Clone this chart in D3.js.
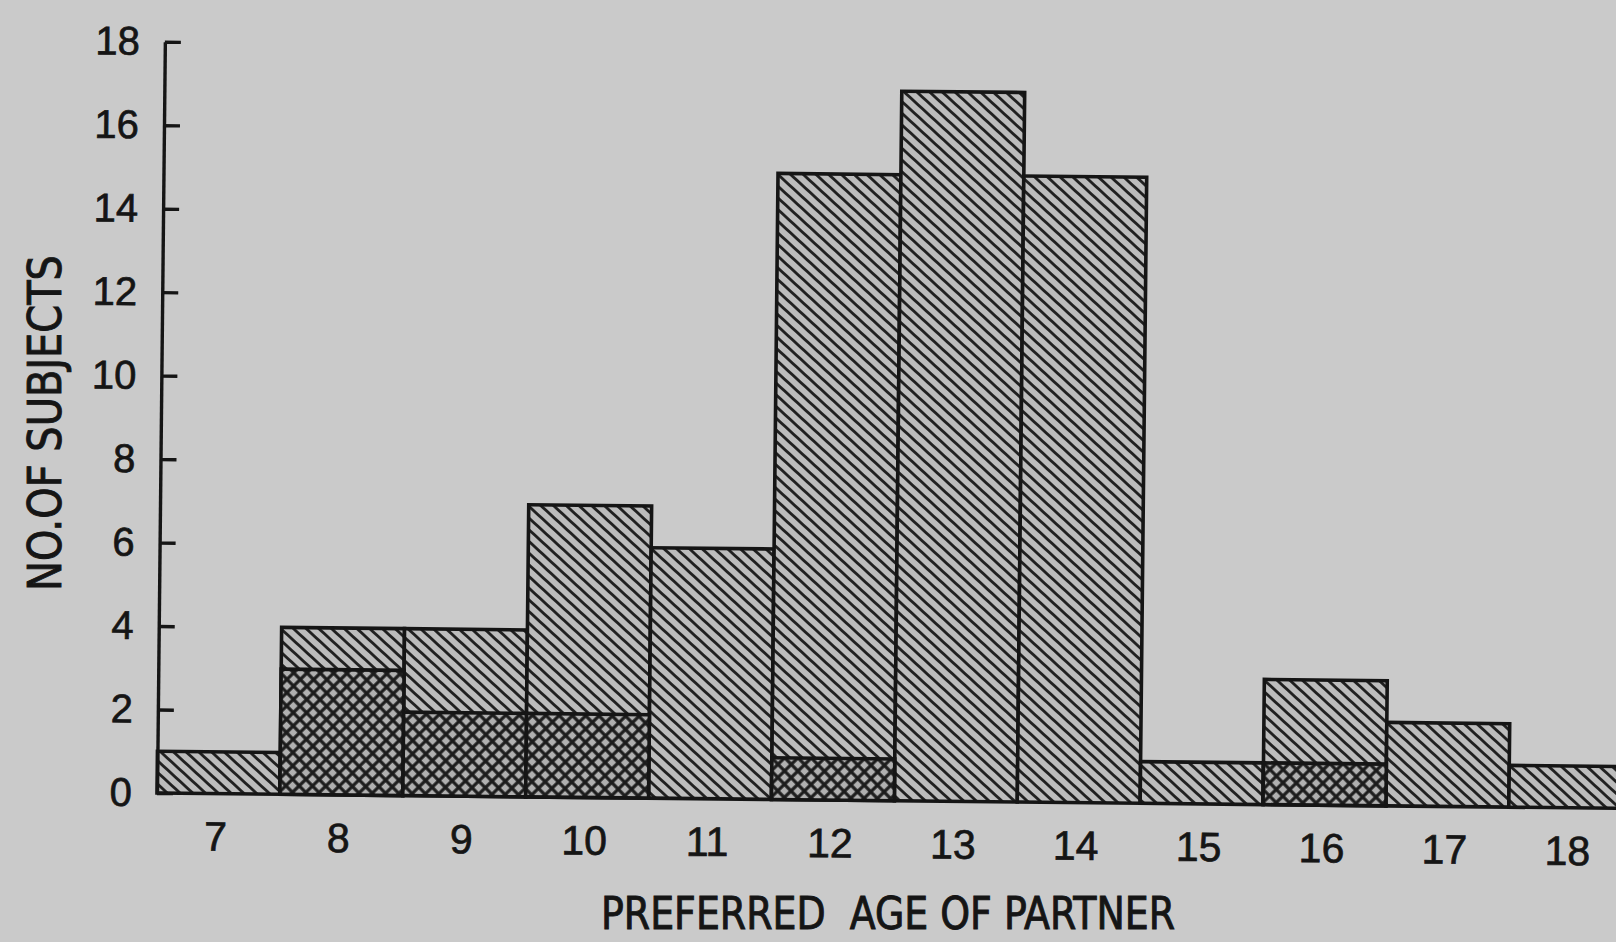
<!DOCTYPE html>
<html>
  <head>
    <meta charset="UTF-8">
    <style>
      html, body { margin: 0; padding: 0; background: #cacaca; }
      svg { display: block; }
      .title { white-space: pre; }
    </style>
    <script src="https://d3js.org/d3.v7.min.js"></script>
  </head>
  <body>
    <div id="viz"></div>
    <script>
      // preferred age of partner (bins) and counts
      const ages = [7, 8, 9, 10, 11, 12, 13, 14, 15, 16, 17, 18];
      const totals = [1, 4, 4, 7, 6, 15, 17, 15, 1, 3, 2, 1];
      const crossed = [0, 3, 2, 2, 0, 1, 0, 0, 0, 1, 0, 0];
      const yTicks = [0, 2, 4, 6, 8, 10, 12, 14, 16, 18];

      const width = 1616, height = 942;
      const x0 = 157, y0 = 793, binW = 122.9;
      const ink = '#151515';

      const x = d3.scaleLinear().domain([6.5, 18.5]).range([x0, x0 + 12 * binW]);
      const y = d3.scaleLinear().domain([0, 18]).range([y0, 41.7]);

      const svg = d3.select('#viz').append('svg')
          .attr('width', width)
          .attr('height', height);

      svg.append('rect')
          .attr('width', width).attr('height', height)
          .attr('fill', '#cacaca');

      // hatch patterns
      const defs = svg.append('defs');
      const hatch = defs.append('pattern')
          .attr('id', 'hatch')
          .attr('patternUnits', 'userSpaceOnUse')
          .attr('width', 8.6).attr('height', 8.6)
          .attr('patternTransform', 'rotate(42)');
      hatch.append('rect').attr('width', 8.6).attr('height', 8.6).attr('fill', '#bcbcbc');
      hatch.append('line')
          .attr('x1', 0).attr('x2', 8.6).attr('y1', 4.3).attr('y2', 4.3)
          .attr('stroke', '#1e1e1e').attr('stroke-width', 2.8);

      const cross = defs.append('pattern')
          .attr('id', 'cross')
          .attr('patternUnits', 'userSpaceOnUse')
          .attr('width', 9.4).attr('height', 9.4)
          .attr('patternTransform', 'rotate(45)');
      cross.append('rect').attr('width', 9.4).attr('height', 9.4).attr('fill', '#b0b0b0');
      cross.append('line')
          .attr('x1', 0).attr('x2', 9.4).attr('y1', 4.7).attr('y2', 4.7)
          .attr('stroke', '#1c1c1c').attr('stroke-width', 3.2);
      cross.append('line')
          .attr('y1', 0).attr('y2', 9.4).attr('x1', 4.7).attr('x2', 4.7)
          .attr('stroke', '#1c1c1c').attr('stroke-width', 3.2);

      // the scanned figure sits slightly rotated
      const g = svg.append('g')
          .attr('transform', `rotate(0.6, ${x0}, ${y0})`);

      const data = ages.map((a, i) => ({age: a, total: totals[i], crossed: crossed[i]}));

      // single hatch (whole bar)
      g.selectAll('rect.bar')
        .data(data)
        .join('rect')
          .attr('class', 'bar')
          .attr('x', d => x(d.age - 0.5))
          .attr('width', binW)
          .attr('y', d => y(d.total))
          .attr('height', d => y(0) - y(d.total))
          .attr('fill', 'url(#hatch)')
          .attr('stroke', ink)
          .attr('stroke-width', 3.6);

      // cross hatch (lower part)
      g.selectAll('rect.crossed')
        .data(data.filter(d => d.crossed > 0))
        .join('rect')
          .attr('class', 'crossed')
          .attr('x', d => x(d.age - 0.5))
          .attr('width', binW)
          .attr('y', d => y(d.crossed))
          .attr('height', d => y(0) - y(d.crossed))
          .attr('fill', 'url(#cross)')
          .attr('stroke', ink)
          .attr('stroke-width', 3.6);

      // y axis, ticks pointing inward
      const yAxis = g.append('g')
          .attr('transform', `translate(${x0},0)`)
          .call(d3.axisLeft(y).tickValues(yTicks).tickSize(-16).tickSizeOuter(0).tickPadding(25));
      yAxis.selectAll('path, line').attr('stroke', ink).attr('stroke-width', 3.4);
      yAxis.selectAll('text')
          .attr('fill', ink)
          .attr('stroke', ink).attr('stroke-width', 0.7)
          .attr('font-family', '"Liberation Sans", Arial, sans-serif')
          .attr('font-size', 40);

      // x axis labels only
      const xAxis = g.append('g')
          .attr('transform', `translate(0,${y0})`)
          .call(d3.axisBottom(x).tickValues(ages).tickSize(0).tickPadding(28));
      xAxis.select('.domain').remove();
      xAxis.selectAll('text')
          .attr('dx', -3)
          .attr('fill', ink)
          .attr('stroke', ink).attr('stroke-width', 0.7)
          .attr('font-family', '"Liberation Sans", Arial, sans-serif')
          .attr('font-size', 41);

      // axis titles
      svg.append('text')
          .attr('class', 'title')
          .attr('x', 888).attr('y', 929)
          .attr('text-anchor', 'middle')
          .attr('font-family', '"Liberation Sans Narrow", "DejaVu Sans Condensed", sans-serif')
          .attr('font-size', 44)
          .attr('textLength', 574)
          .attr('lengthAdjust', 'spacingAndGlyphs')
          .attr('fill', ink)
          .attr('stroke', ink).attr('stroke-width', 0.9)
          .text('PREFERRED  AGE OF PARTNER');

      svg.append('text')
          .attr('class', 'title')
          .attr('transform', 'translate(61,423) rotate(-90)')
          .attr('text-anchor', 'middle')
          .attr('font-family', '"Liberation Sans Narrow", "DejaVu Sans Condensed", sans-serif')
          .attr('font-size', 47)
          .attr('textLength', 336)
          .attr('lengthAdjust', 'spacingAndGlyphs')
          .attr('fill', ink)
          .attr('stroke', ink).attr('stroke-width', 0.9)
          .text('NO.OF SUBJECTS');
    </script>
  </body>
</html>
